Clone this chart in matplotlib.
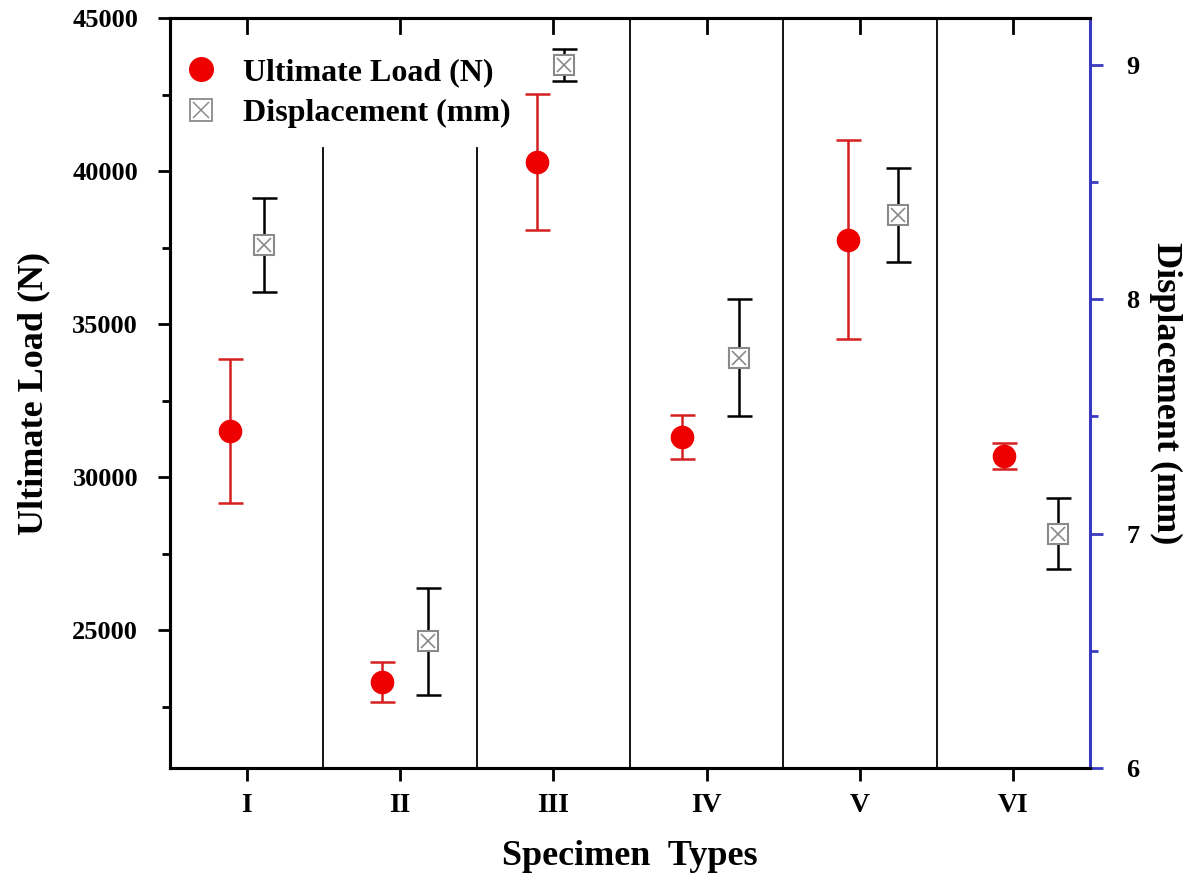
import numpy as np
import matplotlib
matplotlib.use("Agg")
import matplotlib.pyplot as plt
from matplotlib.lines import Line2D
from matplotlib.ticker import MultipleLocator

# Data
types = ["I", "II", "III", "IV", "V", "VI"]
load_x = [0.89, 1.88, 2.89, 3.84, 4.92, 5.94]
load = [31500, 23300, 40300, 31300, 37750, 30700]
load_err = [2350, 650, 2230, 720, 3250, 430]
disp_x = [1.11, 2.18, 3.07, 4.21, 5.25, 6.29]
disp = [8.23, 6.54, 9.00, 7.75, 8.36, 7.00]
disp_err = [0.20, 0.23, 0.07, 0.25, 0.20, 0.15]

plt.rcParams['font.family'] = ['Liberation Serif', 'DejaVu Serif']
plt.rcParams['font.weight'] = 'bold'

fig = plt.figure(figsize=(11.9, 8.84), dpi=100)
ax = fig.add_axes([0.1429, 0.1312, 0.7731, 0.8484])
ax2 = ax.twinx()

x = np.arange(1, len(types) + 1)

# separators between specimen groups (first two stop under the legend)
for i, xs in enumerate(x[:-1] + 0.5):
    top = 40750 if i < 2 else 45000
    ax.plot([xs, xs], [20500, top], color='black', lw=1.3, zorder=1)

ax.errorbar(load_x, load, yerr=load_err, fmt='o', color='#ee0000', ms=16,
            ecolor='#d42020', elinewidth=1.8, capsize=9, capthick=1.8, zorder=3)

ax2.errorbar(disp_x, disp, yerr=disp_err, fmt='none', ecolor='black',
             elinewidth=1.8, capsize=9, capthick=1.8, zorder=2)
ax2.plot(disp_x, disp, 's', ms=15, mfc='white', mec='#8a8a8a', mew=1.5, zorder=4)
ax2.plot(disp_x, disp, 'x', ms=10, mec='#8a8a8a', mew=1.2, zorder=5)

ax.set_xlim(0.5, 6.5)
ax.set_ylim(20500, 45000)
ax2.set_ylim(6, 9.2)

ax.set_xticks(x)
ax.set_xticklabels(types)
ax.set_yticks([25000, 30000, 35000, 40000, 45000])
ax.yaxis.set_minor_locator(MultipleLocator(2500))
ax2.set_yticks([6, 7, 8, 9])
ax2.yaxis.set_minor_locator(MultipleLocator(0.5))

for a in (ax, ax2):
    for s in a.spines.values():
        s.set_linewidth(2.2)
ax2.spines['right'].set_color('#3a3ac0')
ax.spines['right'].set_visible(False)

ax.tick_params(axis='x', which='major', direction='out', length=9, width=2,
               labelsize=20, pad=9, top=False)
ax.tick_params(axis='y', which='major', direction='out', length=9, width=2,
               labelsize=19, pad=14)
ax.tick_params(axis='y', which='minor', direction='out', length=6, width=2)
ax2.tick_params(axis='y', which='major', direction='out', length=9, width=2,
                color='#3a3ac0', labelsize=19, labelcolor='black', pad=17)
ax2.tick_params(axis='y', which='minor', direction='out', length=6, width=2,
                color='#3a3ac0')

# inward ticks on top spine
for xi in x:
    ax.plot([xi, xi], [45000, 45000 - 500], color='black', lw=2, zorder=2)

for lab in ax.get_xticklabels() + ax.get_yticklabels() + ax2.get_yticklabels():
    lab.set_fontweight('bold')

ax.set_xlabel('Specimen  Types', fontsize=26, fontweight='bold', labelpad=16)
ax.set_ylabel('Ultimate Load (N)', fontsize=26, fontweight='bold', labelpad=16)
ax2.set_ylabel('Displacement (mm)', fontsize=26, fontweight='bold',
               rotation=-90, labelpad=31)

h1 = Line2D([], [], marker='o', ls='none', color='#ee0000', ms=17)
h2a = Line2D([], [], marker='s', ls='none', mfc='white', mec='#8a8a8a', ms=16, mew=1.3)
h2b = Line2D([], [], marker='x', ls='none', mec='#8a8a8a', ms=11, mew=1.1)
leg = ax2.legend([h1, (h2a, h2b)], ['Ultimate Load (N)', 'Displacement (mm)'],
                 loc='upper left', bbox_to_anchor=(-0.018, 0.985), frameon=False,
                 prop={'size': 23, 'weight': 'bold'}, handletextpad=0.7,
                 labelspacing=0.35, handlelength=1.2)

fig.savefig('out.png', dpi=100)
